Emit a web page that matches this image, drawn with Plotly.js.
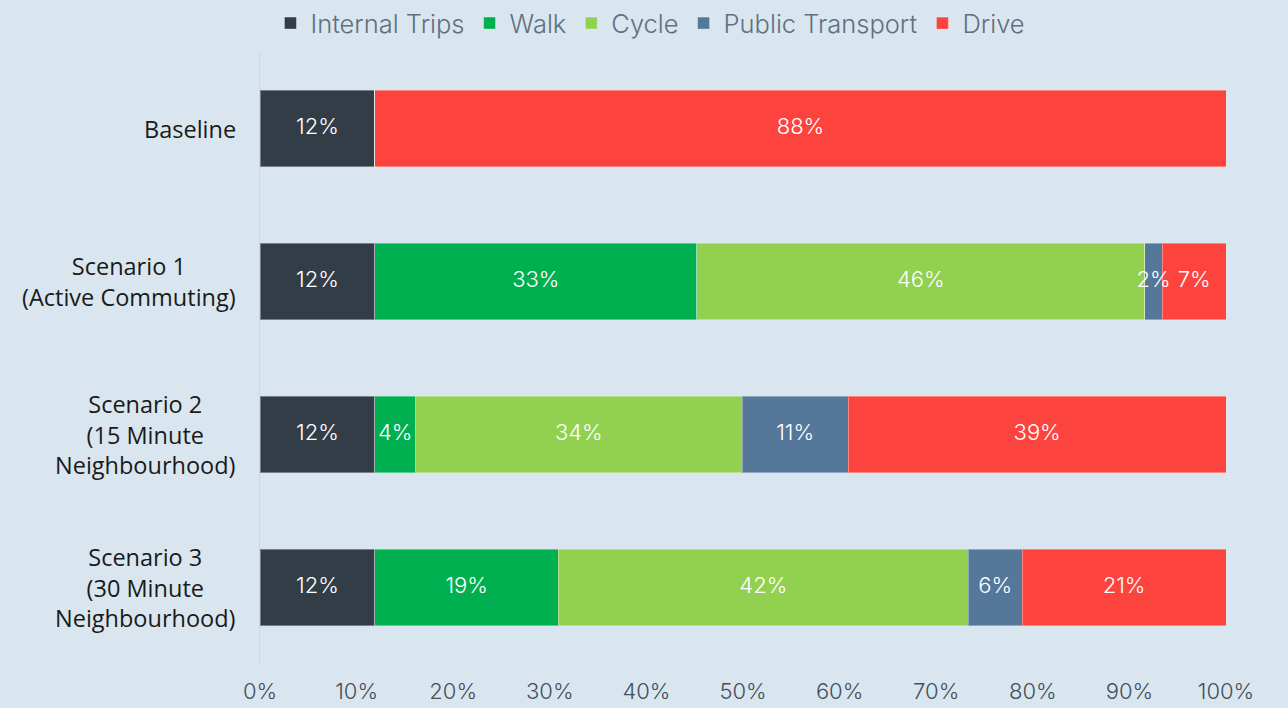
<!DOCTYPE html>
<html>
<head>
<meta charset="utf-8">
<script src="https://cdn.plot.ly/plotly-3.0.1.min.js"></script>
<style>html,body{margin:0;padding:0;background:#d9e6ef;}</style>
</head>
<body>
<div id="chart" style="width:1288px;height:708px;"></div>
<script>
const categories = ["Baseline", "Scenario 1<br>(Active Commuting)", "Scenario 2<br>(15 Minute<br>Neighbourhood)", "Scenario 3<br>(30 Minute<br>Neighbourhood)"];
const seriesNames = ["Internal Trips", "Walk", "Cycle", "Public Transport", "Drive"];
const internalTrips = [0.119, 0.119, 0.119, 0.119];
const walk = [0, 0.333, 0.042, 0.190];
const cycle = [0, 0.464, 0.338, 0.424];
const publicTransport = [0, 0.018, 0.110, 0.056];
const drive = [0.881, 0.066, 0.391, 0.211];
const colors = ["#333d47", "#00b050", "#92d050", "#557799", "#fd433d"];
const xTickVals = [0, 0.1, 0.2, 0.3, 0.4, 0.5, 0.6, 0.7, 0.8, 0.9, 1.0];

const seriesValues = [internalTrips, walk, cycle, publicTransport, drive];
const traces = seriesValues.map((vals, i) => ({
  type: 'bar',
  orientation: 'h',
  name: seriesNames[i],
  y: categories,
  x: vals,
  marker: {color: colors[i], line: {color: 'rgba(255,255,255,0.35)', width: 1}},
  hoverinfo: 'skip'
}));

// value labels, centred on each segment (drawn on top so small segments are not clipped)
const lx = [], ly = [], lt = [];
categories.forEach((c, j) => {
  let cum = 0;
  seriesValues.forEach(vals => {
    const v = vals[j];
    if (v > 0) { lx.push(cum + v / 2); ly.push(c); lt.push(Math.round(v * 100) + '%'); }
    cum += v;
  });
});
traces.push({
  type: 'scatter', mode: 'text', x: lx, y: ly, text: lt,
  textposition: 'middle center',
  textfont: {family: 'Inter, Lato, sans-serif', size: 22, weight: 300, color: '#ffffff'},
  showlegend: false, hoverinfo: 'skip', cliponaxis: false
});

const annotations = categories.map(c => ({
  xref: 'paper', yref: 'y', x: 0, y: c,
  xanchor: 'right', yanchor: 'middle', xshift: -22,
  align: 'center', showarrow: false,
  text: c,
  font: {family: 'Open Sans, Lato, sans-serif', size: 23.5, color: '#1a1a1a'}
}));

const layout = {
  width: 1288, height: 708,
  paper_bgcolor: '#d9e6ef', plot_bgcolor: '#d9e6ef',
  barmode: 'stack',
  bargap: 0.5,
  margin: {l: 260, r: 62, t: 52, b: 44},
  showlegend: true,
  legend: {
    orientation: 'h', xref: 'container', yref: 'container',
    x: 0.505, xanchor: 'center', y: 1.0, yanchor: 'top',
    font: {family: 'Inter, sans-serif', size: 25.5, weight: 300, color: '#607080'},
    itemwidth: 30, traceorder: 'normal', tracegroupgap: 0,
    bgcolor: 'rgba(0,0,0,0)'
  },
  xaxis: {
    range: [0, 1], tickvals: xTickVals, tickformat: '.0%',
    showgrid: false, zeroline: false, showline: false,
    tickfont: {family: 'Inter, sans-serif', size: 22, weight: 300, color: '#444f5a'},
    ticklabelstandoff: 12, fixedrange: true
  },
  yaxis: {
    categoryorder: 'array', categoryarray: categories,
    autorange: 'reversed',
    showticklabels: false, showgrid: false, zeroline: false,
    showline: true, linecolor: '#cbd8e2', linewidth: 1,
    fixedrange: true
  },
  annotations: annotations
};

Plotly.newPlot('chart', traces, layout, {displayModeBar: false, staticPlot: true});
</script>
</body>
</html>
